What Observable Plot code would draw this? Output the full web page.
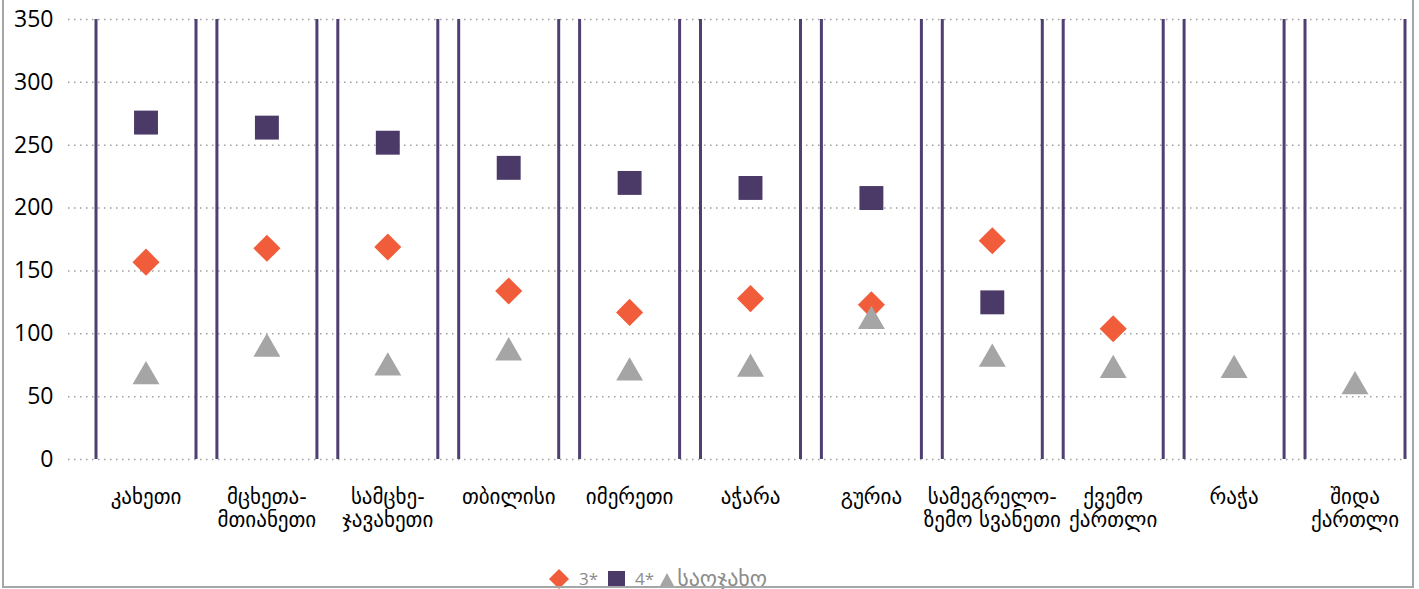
<!DOCTYPE html>
<html>
<head>
<meta charset="utf-8">
<script src="https://cdn.jsdelivr.net/npm/d3@7"></script>
<script src="https://cdn.jsdelivr.net/npm/@observablehq/plot@0.6"></script>
<style>
  html, body { margin: 0; padding: 0; background: #fff; font-family: "Open Sans", "DejaVu Sans", sans-serif; overflow: hidden; }
  #chart { position: absolute; left: 0; top: 0; width: 1419px; }
  #chart svg { display: block; max-width: none !important; }
  #border { position: absolute; left: 2px; top: -2px; width: 1408px; height: 586px; border: 2px solid #A6A6A6; pointer-events: none; z-index: 5; background: transparent; }
  #legend { position: absolute; left: 549px; top: 569px; display: flex; align-items: center; font-size: 17px; line-height: 20px; color: #8C8C8C; white-space: nowrap; z-index: 2; }
  #legend svg { display: block; }
</style>
</head>
<body>
<div id="chart"></div>
<div id="legend"></div>
<div id="border"></div>
<script>
const categories = ["კახეთი", "მცხეთა-\nმთიანეთი", "სამცხე-\nჯავახეთი", "თბილისი", "იმერეთი", "აჭარა", "გურია", "სამეგრელო-\nზემო სვანეთი", "ქვემო\nქართლი", "რაჭა", "შიდა\nქართლი"];
const threeStar = [157, 168, 169, 134, 117, 128, 123, 174, 104, null, null];
const fourStar = [268, 264, 252, 232, 220, 216, 208, 125, null, null, null];
const family = [66, 88, 73, 85, 69, 72, 110, 80, 71, 71, 58];
const yTicks = [0, 50, 100, 150, 200, 250, 300, 350];
const seriesNames = ["3*", "4*", "საოჯახო"];
const seriesColors = ["#F15D3A", "#4B3A68", "#A5A5A5"];

const rows = categories.map((c, i) => ({region: c, three: threeStar[i], four: fourStar[i], family: family[i]}));
const ruleColor = "#4F3F72";

const chart = Plot.plot({
  width: 1419,
  height: 560,
  marginLeft: 68,
  marginRight: 14,
  marginTop: 19,
  marginBottom: 101,
  style: {fontFamily: "'Open Sans', 'DejaVu Sans', sans-serif", fontSize: "23px", color: "#000", background: "transparent", maxWidth: "none"},
  x: {type: "point", domain: categories, range: [145.5, 1354.5], padding: 0, round: false, axis: null},
  y: {domain: [0, 350], ticks: yTicks, tickSize: 0, tickPadding: 15, label: null, tickFormat: d => String(d)},
  marks: [
    Plot.ruleY(yTicks, {stroke: "#A0A0A0", strokeWidth: 1.5, strokeDasharray: "1.5,4.5"}),
    Plot.ruleX(categories, {x: d => d, y1: 0, y2: 350, dx: -50, stroke: ruleColor, strokeWidth: 3}),
    Plot.ruleX(categories, {x: d => d, y1: 0, y2: 350, dx: 50, stroke: ruleColor, strokeWidth: 3}),
    Plot.dot(rows, {x: "region", y: "three", symbol: "diamond2", r: 12.2, fill: seriesColors[0], stroke: "none"}),
    Plot.dot(rows, {x: "region", y: "four", symbol: "square", r: 13.5, fill: seriesColors[1], stroke: "none"}),
    Plot.dot(rows, {x: "region", y: "family", symbol: "triangle", r: 10, fill: seriesColors[2], stroke: "none"}),
    Plot.text(categories, {x: d => d, frameAnchor: "bottom", dy: 29, lineAnchor: "top", lineHeight: 1.07, fontSize: 21, fill: "#000", fontFamily: "'DejaVu Sans', sans-serif"})
  ]
});
document.getElementById("chart").appendChild(chart);

// legend
const legend = document.getElementById("legend");
const shapes = [
  '<svg width="20" height="20" viewBox="-10 -10 20 20"><path d="M0,-10L10,0L0,10L-10,0Z" fill="' + seriesColors[0] + '"/></svg>',
  '<svg width="17" height="17" viewBox="0 0 17 17"><rect width="17" height="17" fill="' + seriesColors[1] + '"/></svg>',
  '<svg width="14" height="13" viewBox="0 0 14 13"><path d="M7,0L14,13L0,13Z" fill="' + seriesColors[2] + '"/></svg>'
];
const gapsBefore = [0, 10, 6];
seriesNames.forEach((name, i) => {
  const sym = document.createElement("span");
  sym.innerHTML = shapes[i];
  sym.style.marginLeft = gapsBefore[i] + "px";
  legend.appendChild(sym);
  const t = document.createElement("span");
  t.textContent = name;
  t.style.marginLeft = (i === 2 ? 3 : 10) + "px";
  if (i === 2) { t.style.fontSize = "22px"; t.style.fontFamily = "'DejaVu Sans', sans-serif"; }
  legend.appendChild(t);
});
</script>
</body>
</html>
